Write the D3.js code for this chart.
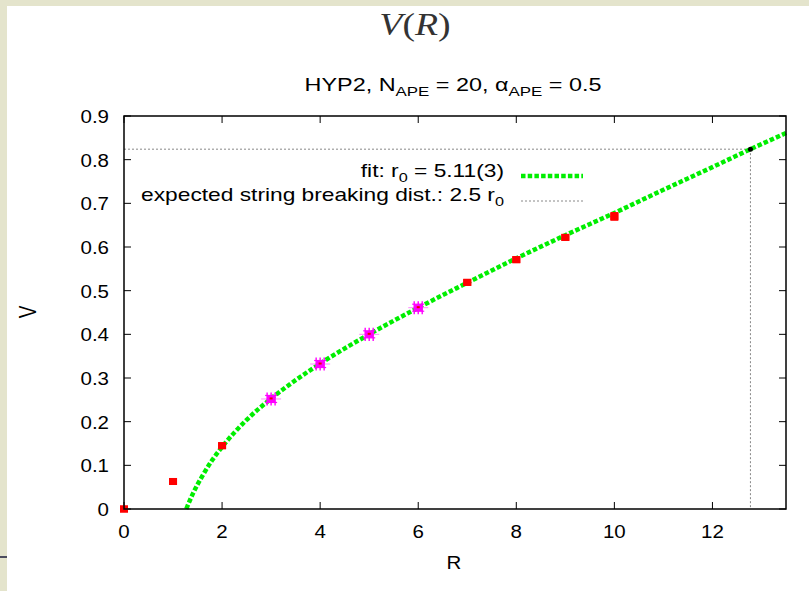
<!DOCTYPE html>
<html><head><meta charset="utf-8">
<script src="https://cdn.jsdelivr.net/npm/d3@7"></script>
<style>
html,body{margin:0;padding:0;background:#e4e4cc;}
svg{display:block;font-family:"Liberation Sans",Arial,sans-serif;}
</style></head>
<body>
<svg id="c" width="809" height="591"></svg>
<script>
// ---- data ----
const redR = [0, 1, 2, 7, 8, 9, 10];
const redV = [0, 0.063, 0.145, 0.519, 0.571, 0.622, 0.670];
const redErr = [0, 0.002, 0.003, 0.004, 0.005, 0.008, 0.010];
const magR = [3, 4, 5, 6];
const magV = [0.252, 0.332, 0.400, 0.461];
const magErr = [0.015, 0.015, 0.015, 0.015];
const fitR = [1.27, 1.4, 1.6, 1.8, 2, 2.5, 3, 3.5, 4, 5, 6, 7, 8, 9, 10, 11, 12, 12.775, 13.5];
const fitV = [0.000, 0.034, 0.076, 0.112, 0.142, 0.204, 0.253, 0.295, 0.333, 0.400, 0.461, 0.518, 0.574, 0.627, 0.678, 0.731, 0.783, 0.824, 0.861];
const breakR = 12.775, breakV = 0.824;
const xTicks = [0, 2, 4, 6, 8, 10, 12];
const yTicks = [0, 0.1, 0.2, 0.3, 0.4, 0.5, 0.6, 0.7, 0.8, 0.9];
const yTickLabels = ["0", "0.1", "0.2", "0.3", "0.4", "0.5", "0.6", "0.7", "0.8", "0.9"];

const svg = d3.select("#c");
function stext(parent, px, py, size, anchor, sx) {
  return parent.append("text").attr("transform", `translate(${px},${py}) scale(${sx},1)`)
    .attr("text-anchor", anchor).attr("font-size", size);
}
// page panel
svg.append("rect").attr("x", 7).attr("y", 6).attr("width", 802).attr("height", 585).attr("fill", "#ffffff");
svg.append("line").attr("x1", 0).attr("x2", 7).attr("y1", 557).attr("y2", 557).attr("stroke", "#1a1a3a").attr("stroke-width", 1.5);

const L = 124, R = 786, T = 116, B = 509;
const x = d3.scaleLinear().domain([0, 13.5]).range([L, R]);
const y = d3.scaleLinear().domain([0, 0.9]).range([B, T]);

// titles
stext(svg, 415, 35, 31, "middle", 1.22)
  .attr("font-family", "'Liberation Serif','DejaVu Serif',serif").attr("fill", "#333")
  .html('<tspan font-style="italic">V</tspan>(<tspan font-style="italic">R</tspan>)');
const st = stext(svg, 453, 91, 18, "middle", 1.3);
st.append("tspan").text("HYP2, N");
st.append("tspan").attr("font-size", 13).attr("dy", 5).text("APE");
st.append("tspan").attr("dy", -5).text(" = 20, \u03b1");
st.append("tspan").attr("font-size", 13).attr("dy", 5).text("APE");
st.append("tspan").attr("dy", -5).text(" = 0.5");

// axes ticks (inside, mirrored)
const g = svg.append("g");
const tl = 7;
xTicks.forEach(t => {
  g.append("line").attr("x1", x(t)).attr("x2", x(t)).attr("y1", B).attr("y2", B - tl).attr("stroke", "#000");
  g.append("line").attr("x1", x(t)).attr("x2", x(t)).attr("y1", T).attr("y2", T + tl).attr("stroke", "#000");
  stext(g, x(t), B + 29, 19, "middle", 1.08).text(t);
});
yTicks.forEach((t, i) => {
  g.append("line").attr("x1", L).attr("x2", L + tl).attr("y1", y(t)).attr("y2", y(t)).attr("stroke", "#000");
  g.append("line").attr("x1", R).attr("x2", R - tl).attr("y1", y(t)).attr("y2", y(t)).attr("stroke", "#000");
  stext(g, L - 15, y(t) + 7, 19, "end", 1.08).text(yTickLabels[i]);
});
stext(svg, 454, 569, 19, "middle", 1.08).text("R");
svg.append("text").attr("transform", "translate(36,312) scale(1.3,1) rotate(-90)").attr("text-anchor", "middle").attr("font-size", 19).text("V");

// breaking distance dotted lines
const grey = "#888888";
svg.append("line").attr("x1", x(0)).attr("x2", x(breakR)).attr("y1", y(breakV)).attr("y2", y(breakV))
  .attr("stroke", grey).attr("stroke-width", 1).attr("stroke-dasharray", "2,2");
svg.append("line").attr("x1", x(breakR)).attr("x2", x(breakR)).attr("y1", y(breakV)).attr("y2", y(0))
  .attr("stroke", grey).attr("stroke-width", 1).attr("stroke-dasharray", "2,2");

// fit curve
const fitData = fitR.map((r, i) => [r, fitV[i]]);
svg.append("path").datum(fitData)
  .attr("d", d3.line().x(d => x(d[0])).y(d => y(d[1])).curve(d3.curveMonotoneX))
  .attr("fill", "none").attr("stroke", "#00ee00").attr("stroke-width", 4.5).attr("stroke-dasharray", "4.5,2.2");

// red points
redR.forEach((r, i) => {
  const cx = x(r), cy = y(redV[i]), e = Math.max(3.5, redErr[i] * 437);
  svg.append("rect").attr("x", cx - 4).attr("y", cy - e).attr("width", 8).attr("height", 2 * e).attr("fill", "#ff0000");
  svg.append("rect").attr("x", cx - 4).attr("y", cy - 3.5).attr("width", 8).attr("height", 7).attr("fill", "#ff0000");
});
// magenta points
magR.forEach((r, i) => {
  const cx = x(r), cy = y(magV[i]), e = magErr[i] * 437;
  const mg = svg.append("g");
  mg.append("line").attr("x1", cx - 10).attr("x2", cx + 10).attr("y1", cy).attr("y2", cy).attr("stroke", "#ff88ff").attr("stroke-width", 1);
  [-4, 0, 4].forEach(dx => {
    mg.append("line").attr("x1", cx + dx).attr("x2", cx + dx).attr("y1", cy - e).attr("y2", cy + e).attr("stroke", "#ff00ff").attr("stroke-width", 1.4);
  });
  mg.append("line").attr("x1", cx - 6).attr("x2", cx + 6).attr("y1", cy - 3.5).attr("y2", cy - 3.5).attr("stroke", "#ff00ff").attr("stroke-width", 1.2);
  mg.append("line").attr("x1", cx - 6).attr("x2", cx + 6).attr("y1", cy + 3.5).attr("y2", cy + 3.5).attr("stroke", "#ff00ff").attr("stroke-width", 1.2);
  mg.append("rect").attr("x", cx - 4).attr("y", cy - 3.5).attr("width", 8).attr("height", 7).attr("fill", "#ff00ff");
  mg.append("rect").attr("x", cx - 1.5).attr("y", cy - 1.5).attr("width", 3).attr("height", 2).attr("fill", "#ee0000");
});
// break point
svg.append("circle").attr("cx", x(breakR)).attr("cy", y(breakV)).attr("r", 2.5).attr("fill", "#000");

// frame
svg.append("rect").attr("x", L).attr("y", T).attr("width", R - L).attr("height", B - T)
  .attr("fill", "none").attr("stroke", "#000").attr("stroke-width", 1.5);

// legend
const lg = svg.append("g");
const t1 = stext(lg, 504, 177, 17.5, "end", 1.3);
t1.append("tspan").text("fit: r");
t1.append("tspan").attr("font-size", 12.5).attr("dy", 5).text("0");
t1.append("tspan").attr("dy", -5).text(" = 5.11(3)");
lg.append("line").attr("x1", 521).attr("x2", 583).attr("y1", 176).attr("y2", 176)
  .attr("stroke", "#00ee00").attr("stroke-width", 4.5).attr("stroke-dasharray", "4.5,2.2");
const t2 = stext(lg, 504, 201, 17.5, "end", 1.3);
t2.append("tspan").text("expected string breaking dist.: 2.5 r");
t2.append("tspan").attr("font-size", 12.5).attr("dy", 5).text("0");
lg.append("line").attr("x1", 521).attr("x2", 583).attr("y1", 201).attr("y2", 201)
  .attr("stroke", grey).attr("stroke-width", 1).attr("stroke-dasharray", "2,2");
</script>
</body></html>
